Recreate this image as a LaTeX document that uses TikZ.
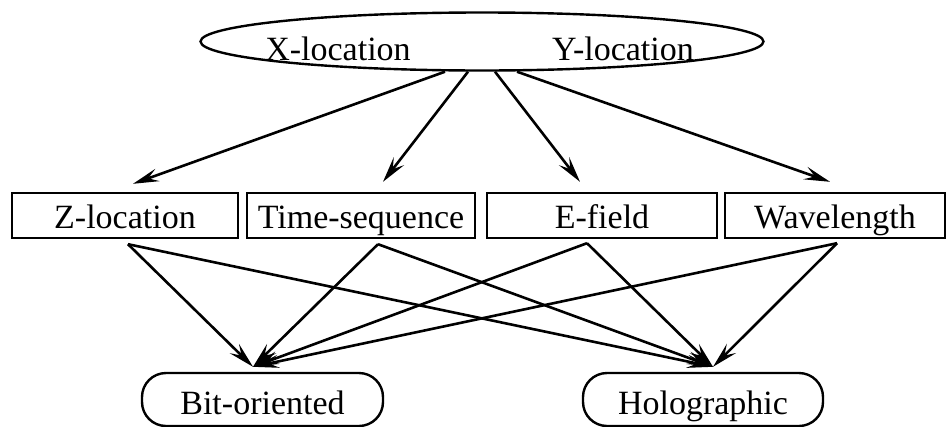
\documentclass[tikz,border=0pt]{standalone}
\usepackage{fontspec}
\setmainfont{Liberation Serif}
\usetikzlibrary{arrows.meta,shapes.geometric}
\tikzset{
  txt/.style={font=\fontsize{34}{40}\selectfont},
  boxnode/.style={draw, line width=2.4pt, rectangle, inner sep=0pt, minimum height=45pt, text height=25pt, text depth=0pt, txt},
  pill/.style={draw, line width=2.4pt, rectangle, rounded corners=24pt, inner sep=0pt, minimum height=53pt, minimum width=241pt, text height=30pt, text depth=0pt, txt},
  conn/.style={line width=2.6pt, -{Stealth[length=26pt,width=13pt,inset=10pt]}},
}
\begin{document}
\begin{tikzpicture}[x=1pt,y=-1pt]
\useasboundingbox (0,0) rectangle (947,426);
\node[draw, line width=2.4pt, ellipse, inner sep=0pt, minimum width=563pt, minimum height=58pt] (top) at (482,41.5) {};
\node[txt, anchor=base] (xl) at (338,60) {X-location};
\node[txt, anchor=base] (yl) at (623,60) {Y-location};

\node[boxnode, minimum width=226pt] (z) at (125,215.5) {Z-location};
\node[boxnode, minimum width=228pt] (t) at (361,215.5) {Time-sequence};
\node[boxnode, minimum width=230pt] (e) at (602,215.5) {E-field};
\node[boxnode, minimum width=220pt] (w) at (835,215.5) {Wavelength};

\node[pill] (bit) at (262.5,399.5) {Bit-oriented};
\node[pill, minimum width=240pt] (holo) at (703,399.5) {Holographic};

\draw[conn] ([xshift=-37pt]top.south) -- ([xshift=8pt,yshift=8pt]z.north);
\draw[conn] ([xshift=-14pt]top.south) -- ([xshift=22pt,yshift=10pt]t.north);
\draw[conn] ([xshift=13pt]top.south) -- ([xshift=-22pt,yshift=10pt]e.north);
\draw[conn] ([xshift=35pt]top.south) -- ([xshift=-5pt,yshift=10pt]w.north);

\draw[conn] ([xshift=3pt,yshift=-5pt]z.south) -- ([xshift=-9.5pt,yshift=5pt]bit.north);
\draw[conn] ([xshift=3pt,yshift=-5pt]z.south) -- ([xshift=10pt,yshift=5pt]holo.north);
\draw[conn] ([xshift=17pt,yshift=-5pt]t.south) -- ([xshift=-9.5pt,yshift=5pt]bit.north);
\draw[conn] ([xshift=17pt,yshift=-5pt]t.south) -- ([xshift=10pt,yshift=5pt]holo.north);
\draw[conn] ([xshift=-15pt,yshift=-4pt]e.south) -- ([xshift=-9.5pt,yshift=5pt]bit.north);
\draw[conn] ([xshift=-15pt,yshift=-4pt]e.south) -- ([xshift=10pt,yshift=5pt]holo.north);
\draw[conn] ([xshift=2pt,yshift=-4pt]w.south) -- ([xshift=-9.5pt,yshift=5pt]bit.north);
\draw[conn] ([xshift=2pt,yshift=-4pt]w.south) -- ([xshift=10pt,yshift=5pt]holo.north);
\end{tikzpicture}
\end{document}
